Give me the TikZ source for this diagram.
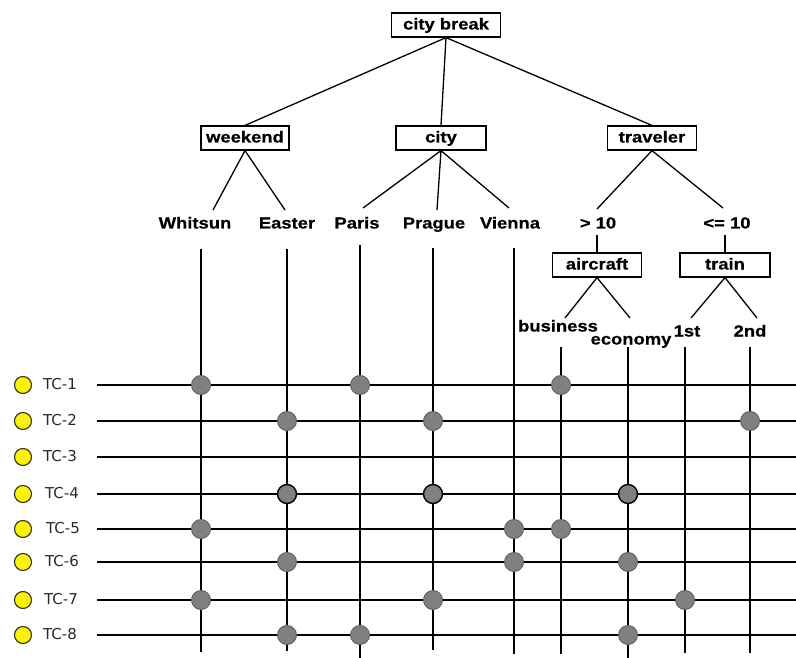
\documentclass[tikz,border=0pt]{standalone}
\usepackage{fontspec}
\newfontfamily\lblfont{Liberation Sans}[FakeStretch=1.15,BoldFeatures={FakeBold=0.6}]
\newfontfamily\tcfont{DejaVu Sans}
\definecolor{dotgray}{RGB}{128,128,128}
\definecolor{dotedge}{RGB}{95,95,95}
\definecolor{tcyellow}{RGB}{250,240,20}
\definecolor{tcedge}{RGB}{60,50,10}
\definecolor{tctext}{RGB}{40,40,40}
\begin{document}
\begin{tikzpicture}[x=1pt,y=-1pt,
  box/.style={draw,line width=1.2pt,font=\lblfont\bfseries\fontsize{16}{16}\selectfont,
              minimum height=24pt,inner sep=0pt,text height=12pt,text depth=3pt},
  lbl/.style={font=\lblfont\bfseries\fontsize{16}{16}\selectfont,inner sep=0pt,
              text height=12pt,text depth=3pt},
  tc/.style={font=\tcfont\fontsize{15}{15}\selectfont,text=tctext,inner sep=0pt,anchor=west,
             text height=11pt,text depth=3pt},
  edge/.style={line width=1.3pt},
  gridline/.style={line width=1.4pt},
  dot/.style={circle,fill=dotgray,draw=dotedge,minimum size=19pt,inner sep=0pt,line width=0.9pt},
  dotb/.style={dot,draw=black,line width=1.4pt},
  ybul/.style={circle,fill=tcyellow,draw=tcedge,minimum size=17pt,inner sep=0pt,line width=1.1pt}]
\useasboundingbox (0,0) rectangle (796,658);
\fill[white] (0,0) rectangle (796,658);

% boxes
\node[box,minimum width=109pt] (cb) at (446,25) {city break};
\node[box,minimum width=88pt]  (wk) at (245,138) {weekend};
\node[box,minimum width=90pt]  (ct) at (441,138) {city};
\node[box,minimum width=89pt]  (tr) at (652,138) {traveler};
\node[box,minimum width=89pt]  (ac) at (597,265) {aircraft};
\node[box,minimum width=90pt]  (tn) at (725,265) {train};

% leaf labels
\node[lbl] (wh) at (195,224) {Whitsun};
\node[lbl] (ea) at (287,224) {Easter};
\node[lbl] (pa) at (357,224) {Paris};
\node[lbl] (pr) at (434,224) {Prague};
\node[lbl] (vi) at (510,224) {Vienna};
\node[lbl] (gt) at (598,224) {> 10};
\node[lbl] (le) at (727,224) {<= 10};
\node[lbl] (bu) at (558,327) {business};
\node[lbl] (ec) at (631,340) {economy};
\node[lbl] (fi) at (687,332) {1st};
\node[lbl] (se) at (750,332) {2nd};

% line ends above leaf labels
\coordinate (wh-t) at (213,210);
\coordinate (ea-t) at (285,210);
\coordinate (pa-t) at (363,208);
\coordinate (pr-t) at (437,210);
\coordinate (vi-t) at (509,208);
\coordinate (gt-t) at (597,209);
\coordinate (le-t) at (723,208);
\coordinate (gt-b) at (597,235);
\coordinate (le-b) at (725,235);
\coordinate (bu-t) at (565,318);
\coordinate (ec-t) at (630,318);
\coordinate (fi-t) at (691,318);
\coordinate (se-t) at (757,318);

% tree edges
\draw[edge] (cb.south) -- (wk.north);
\draw[edge] (cb.south) -- (ct.north);
\draw[edge] (cb.south) -- (tr.north);
\draw[edge] (wk.south) -- (wh-t);
\draw[edge] (wk.south) -- (ea-t);
\draw[edge] (ct.south) -- (pa-t);
\draw[edge] (ct.south) -- (pr-t);
\draw[edge] (ct.south) -- (vi-t);
\draw[edge] (tr.south) -- (gt-t);
\draw[edge] (tr.south) -- (le-t);
\draw[edge] (gt-b) -- (ac.north);
\draw[edge] (le-b) -- (tn.north);
\draw[edge] (ac.south) -- (bu-t);
\draw[edge] (ac.south) -- (ec-t);
\draw[edge] (tn.south) -- (fi-t);
\draw[edge] (tn.south) -- (se-t);

% vertical lines (one per leaf)
\foreach \n/\x/\ya/\yb in {1/201/249/652, 2/287/249/651, 3/360/245/658, 4/433/248/650,
                           5/514/248/654, 6/561/347/654, 7/628/347/658, 8/685/347/653, 9/750/347/653}{
  \coordinate (vt\n) at (\x,\ya);
  \coordinate (vb\n) at (\x,\yb);
  \draw[gridline] (vt\n) -- (vb\n);
}

% test case rows
\foreach \n/\y/\lx in {1/385/43, 2/421/43, 3/457/43, 4/494/45, 5/529/46, 6/562/45, 7/600/44, 8/635/43}{
  \coordinate (rs\n) at (97,\y);
  \coordinate (re\n) at (796,\y);
  \draw[gridline] (rs\n) -- (re\n);
  \node[ybul] (b\n) at (23,\y) {};
  \node[tc] (t\n) at (\lx,\y) {TC-\n};
}

% dots
\foreach \x/\y in {201/385, 360/385, 561/385,
                   287/421, 433/421, 750/421,
                   201/529, 514/529, 561/529,
                   287/562, 514/562, 628/562,
                   201/600, 433/600, 685/600,
                   287/635, 360/635, 628/635}{
  \node[dot] at (\x,\y) {};
}
\foreach \x in {287,433,628}{
  \node[dotb] at (\x,494) {};
}
\end{tikzpicture}
\end{document}
